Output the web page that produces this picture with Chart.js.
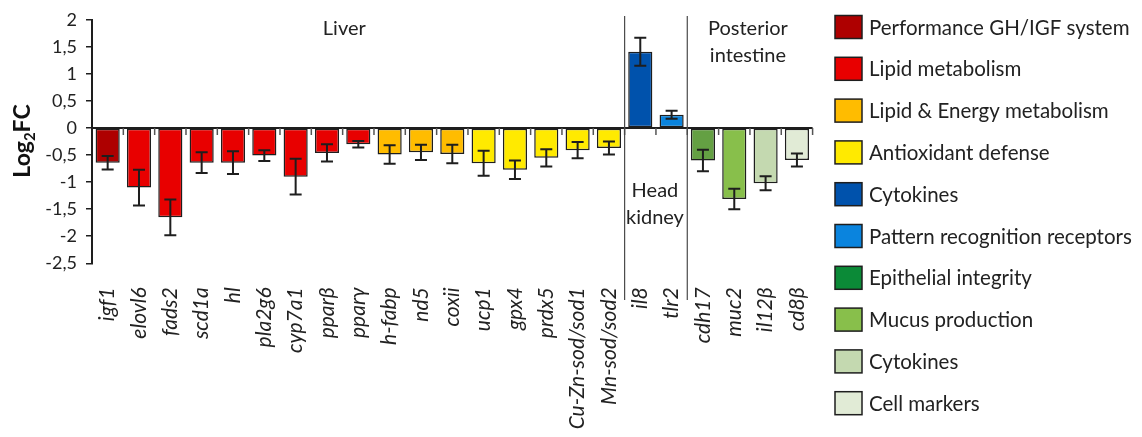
<!DOCTYPE html>
<html>
<head>
<meta charset="utf-8">
<script src="https://cdn.jsdelivr.net/npm/chart.js@4/dist/chart.umd.min.js"></script>
<style>
  html, body { margin: 0; padding: 0; background: #fff; }
  #wrap { width: 1142px; height: 437px; }
</style>
</head>
<body>
<div id="wrap"><canvas id="c" width="1142" height="437"></canvas></div>
<script>
// Genes, in plotting order
const genes = ['igf1', 'elovl6', 'fads2', 'scd1a', 'hl', 'pla2g6', 'cyp7a1', 'pparβ', 'pparγ',
  'h-fabp', 'nd5', 'coxii', 'ucp1', 'gpx4', 'prdx5', 'Cu-Zn-sod/sod1', 'Mn-sod/sod2',
  'il8', 'tlr2', 'cdh17', 'muc2', 'il12β', 'cd8β'];

// Log2 fold change per gene
const log2fc = [-0.64, -1.10, -1.65, -0.64, -0.64, -0.51, -0.90, -0.46, -0.30,
  -0.49, -0.45, -0.48, -0.65, -0.77, -0.55, -0.41, -0.37,
  1.41, 0.245, -0.60, -1.31, -1.02, -0.59];

// Standard error per gene
const sem = [0.125, 0.33, 0.33, 0.19, 0.21, 0.10, 0.33, 0.16, 0.06,
  0.17, 0.14, 0.17, 0.23, 0.17, 0.16, 0.15, 0.12,
  0.26, 0.075, 0.20, 0.19, 0.13, 0.12];

// Functional group of each gene (index into groupNames)
const geneGroup = [0, 1, 1, 1, 1, 1, 1, 1, 1, 2, 2, 2, 3, 3, 3, 3, 3, 4, 5, 6, 7, 8, 9];

const groupNames = ['Performance GH/IGF system', 'Lipid metabolism', 'Lipid & Energy metabolism',
  'Antioxidant defense', 'Cytokines', 'Pattern recognition receptors', 'Epithelial integrity',
  'Mucus production', 'Cytokines', 'Cell markers'];

// Tissues: name lines and number of genes in each
const tissueNames = [['Liver'], ['Head', 'kidney'], ['Posterior', 'intestine']];
const tissueSizes = [17, 2, 4];

// y axis range and step
const yMin = -2.5, yMax = 2, yStep = 0.5;

// ---- styling ----
const groupColors = ['#AE0000', '#E80000', '#FFBC00', '#FFEA00', '#0052AC', '#0A84DE',
  '#0B8A37', '#88BF4B', '#C4D9B0', '#E1EBD6'];
const barGroupColors = groupColors.map((c, i) => i === 6 ? '#64A043' : c);
const tissueLabelShift = [-14, -1, -2];   // horizontal nudge of each tissue name, px
const ink = '#1e1e1e';
const FONT = 'Lato, "Open Sans", sans-serif';

const plotDecor = {
  id: 'plotDecor',
  afterDatasetsDraw(chart) {
    const { ctx, chartArea: a, scales: { y } } = chart;
    const meta = chart.getDatasetMeta(0);
    const n = genes.length;
    const w = (a.right - a.left) / n;
    const y0 = y.getPixelForValue(0);
    ctx.save();

    // error bars
    ctx.strokeStyle = ink;
    ctx.lineWidth = 2;
    meta.data.forEach((bar, i) => {
      const cx = bar.x;
      const yt = y.getPixelForValue(log2fc[i] + sem[i]);
      const yb = y.getPixelForValue(log2fc[i] - sem[i]);
      ctx.beginPath();
      ctx.moveTo(cx, yt); ctx.lineTo(cx, yb);
      ctx.moveTo(cx - 6, yt); ctx.lineTo(cx + 6, yt);
      ctx.moveTo(cx - 6, yb); ctx.lineTo(cx + 6, yb);
      ctx.stroke();
    });

    // zero line with category tick marks
    ctx.lineWidth = 2;
    ctx.beginPath();
    ctx.moveTo(a.left, y0); ctx.lineTo(a.right, y0);
    ctx.stroke();
    ctx.lineWidth = 1.5;
    ctx.strokeStyle = '#555';
    for (let k = 1; k <= n; k++) {
      const bx = a.left + k * w;
      ctx.beginPath();
      ctx.moveTo(bx, y0); ctx.lineTo(bx, y0 + 7);
      ctx.stroke();
    }

    // tissue separators and names
    ctx.strokeStyle = '#4a4a4a';
    ctx.lineWidth = 1.2;
    ctx.fillStyle = '#222';
    ctx.font = '20px ' + FONT;
    ctx.textAlign = 'center';
    ctx.textBaseline = 'middle';
    let start = 0;
    tissueNames.forEach((lines, t) => {
      const end = start + tissueSizes[t];
      if (t > 0) {
        const sx = a.left + start * w;
        ctx.beginPath();
        ctx.moveTo(sx, 16); ctx.lineTo(sx, 300);
        ctx.stroke();
      }
      const cx = a.left + (start + end) / 2 * w + tissueLabelShift[t];
      const upper = log2fc.slice(start, end).some(v => v > 0.5);
      const ty = upper ? 191 : 29;
      lines.forEach((s, j) => ctx.fillText(s, cx, ty + j * 27));
      start = end;
    });

    // y axis title: Log2FC with subscript
    ctx.translate(23, 141);
    ctx.rotate(-Math.PI / 2);
    ctx.fillStyle = '#111';
    ctx.textAlign = 'left';
    ctx.textBaseline = 'middle';
    const big = 'bold 23px ' + FONT, small = 'bold 15px ' + FONT;
    ctx.font = big; const w1 = ctx.measureText('Log').width; const w3 = ctx.measureText('FC').width;
    ctx.font = small; const w2 = ctx.measureText('2').width;
    let px = -(w1 + w2 + w3) / 2;
    ctx.font = big; ctx.fillText('Log', px, 0); px += w1;
    ctx.font = small; ctx.fillText('2', px, 7); px += w2;
    ctx.font = big; ctx.fillText('FC', px, 0);
    ctx.restore();

    // legend
    ctx.save();
    ctx.font = '20.5px ' + FONT;
    ctx.textAlign = 'left';
    ctx.textBaseline = 'middle';
    groupNames.forEach((name, i) => {
      const cy = 27 + i * 41.8;
      ctx.fillStyle = groupColors[i];
      ctx.fillRect(835, cy - 11.5, 27, 23);
      ctx.strokeStyle = ink;
      ctx.lineWidth = 1.5;
      ctx.strokeRect(835, cy - 11.5, 27, 23);
      ctx.fillStyle = '#222';
      ctx.fillText(name, 869, cy + 1);
    });
    ctx.restore();
  }
};

new Chart(document.getElementById('c'), {
  type: 'bar',
  data: {
    labels: genes,
    datasets: [{
      data: log2fc,
      backgroundColor: geneGroup.map(g => barGroupColors[g]),
      borderColor: ink,
      borderWidth: 1.5,
      borderSkipped: false,
      categoryPercentage: 1,
      barPercentage: 0.77
    }]
  },
  options: {
    responsive: false,
    animation: false,
    events: [],
    layout: { padding: { top: 18.3, right: 329.4, left: 0, bottom: 0 } },
    plugins: { legend: { display: false }, tooltip: { enabled: false } },
    scales: {
      x: {
        grid: { display: false },
        border: { display: false },
        ticks: {
          autoSkip: false, minRotation: 90, maxRotation: 90, padding: 16,
          color: '#222', font: { family: FONT, style: 'italic', size: 21 }
        },
        afterFit: s => { s.height = 173.7; }
      },
      y: {
        min: yMin, max: yMax,
        ticks: {
          stepSize: yStep, padding: 9, color: '#222',
          font: { family: FONT, size: 18 },
          callback: v => String(v).replace('.', ',')
        },
        grid: { drawOnChartArea: false, drawTicks: true, tickLength: 6, color: ink, lineWidth: 1.5 },
        border: { display: true, color: ink, width: 2 },
        afterFit: s => { s.width = 92; }
      }
    }
  },
  plugins: [plotDecor]
});
</script>
</body>
</html>
